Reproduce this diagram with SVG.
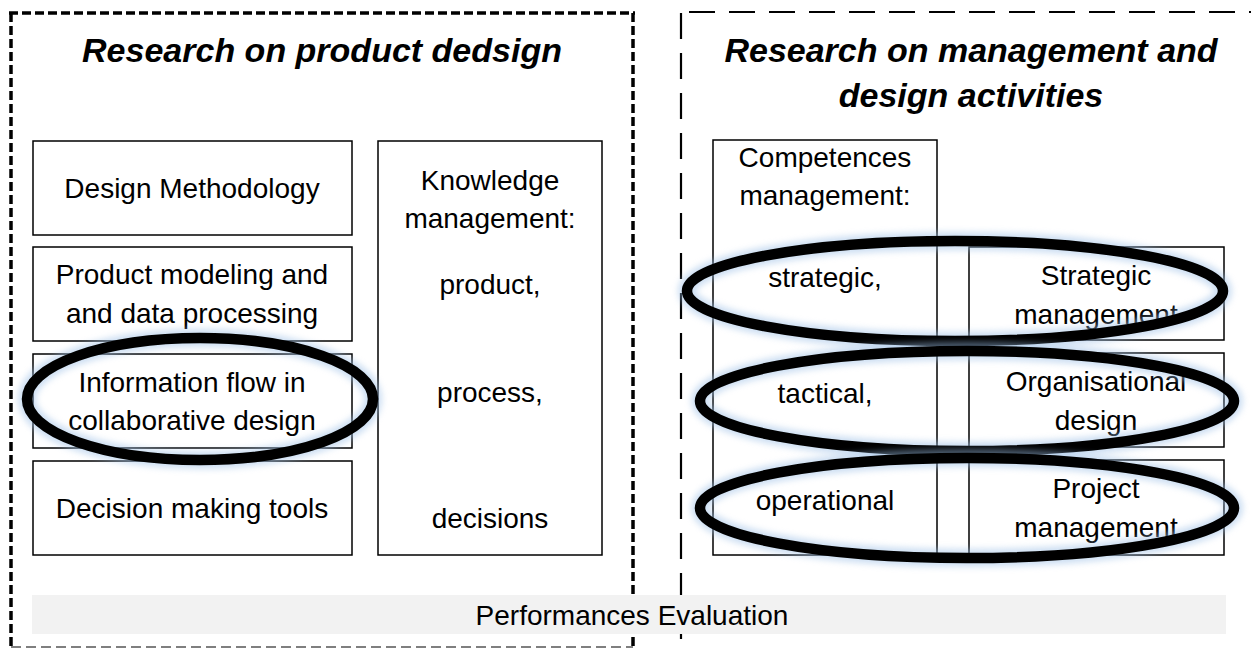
<svg xmlns="http://www.w3.org/2000/svg" width="1251" height="649" viewBox="0 0 1251 649">
<defs>
<style>
.box{fill:#fff;stroke:#000;stroke-width:1.5}
.t{font-family:"Liberation Sans",Arial,sans-serif;font-size:28px;fill:#000;text-anchor:middle}
.title{font-family:"Liberation Sans",Arial,sans-serif;font-size:34px;font-weight:bold;font-style:italic;fill:#000;text-anchor:middle}
.thick{fill:none;stroke:#000;stroke-width:3.5;stroke-dasharray:9 4}
.long{fill:none;stroke:#000;stroke-width:2.2;stroke-dasharray:26 14}
.ring{fill:none;stroke:#000;stroke-width:10.5}
.glow{fill:none;stroke:#9cbfe6;stroke-width:18;opacity:0.5;filter:url(#blur)}
</style>
<filter id="blur" x="-10%" y="-30%" width="120%" height="160%"><feGaussianBlur stdDeviation="3"/></filter>
</defs>
<rect width="1251" height="649" fill="#fff"/>

<g id="frame-product">
<line class="thick" x1="9" y1="13" x2="635" y2="13"/>
<line class="thick" x1="11" y1="13" x2="11" y2="649"/>
<line class="thick" x1="633" y1="13" x2="633" y2="649"/>
<line x1="11" y1="647" x2="633" y2="647" stroke="#555" stroke-width="1.5" stroke-dasharray="10 5"/>
<text class="title" x="322" y="62">Research on product dedsign</text>
</g>

<g id="frame-management">
<line class="long" x1="681" y1="13" x2="681" y2="649"/>
<line class="long" x1="689" y1="12" x2="1251" y2="12"/>
<text class="title" x="971" y="62">Research on management and</text>
<text class="title" x="971" y="107">design activities</text>
</g>

<g id="performance">
<rect x="32" y="595" width="1194" height="39" fill="#f2f2f2"/>
<text class="t" x="632" y="625">Performances Evaluation</text>
</g>

<g id="design-methodology">
<rect class="box" x="33" y="141" width="319" height="94"/>
<text class="t" x="192" y="198">Design Methodology</text>
</g>
<g id="product-modeling">
<rect class="box" x="33" y="247" width="319" height="94"/>
<text class="t" x="192" y="284">Product modeling and</text>
<text class="t" x="192" y="323">and data processing</text>
</g>
<g id="information-flow">
<rect class="box" x="33" y="354" width="319" height="94"/>
<text class="t" x="192" y="392">Information flow in</text>
<text class="t" x="192" y="430">collaborative design</text>
</g>
<g id="decision-tools">
<rect class="box" x="33" y="461" width="319" height="94"/>
<text class="t" x="192" y="518">Decision making tools</text>
</g>
<g id="knowledge">
<rect class="box" x="378" y="141" width="224" height="414"/>
<text class="t" x="490" y="190">Knowledge</text>
<text class="t" x="490" y="228">management:</text>
<text class="t" x="490" y="294">product,</text>
<text class="t" x="490" y="402">process,</text>
<text class="t" x="490" y="528">decisions</text>
</g>

<g id="competences">
<rect class="box" x="713" y="140" width="224" height="415"/>
<text class="t" x="825" y="167">Competences</text>
<text class="t" x="825" y="205">management:</text>
<text class="t" x="825" y="287">strategic,</text>
<text class="t" x="825" y="403">tactical,</text>
<text class="t" x="825" y="510">operational</text>
</g>
<g id="strategic-management">
<rect class="box" x="969" y="247" width="255" height="93"/>
<text class="t" x="1096" y="285">Strategic</text>
<text class="t" x="1096" y="324">management</text>
</g>
<g id="organisational-design">
<rect class="box" x="969" y="353" width="255" height="94"/>
<text class="t" x="1096" y="391">Organisational</text>
<text class="t" x="1096" y="430">design</text>
</g>
<g id="project-management">
<rect class="box" x="969" y="460" width="255" height="95"/>
<text class="t" x="1096" y="498">Project</text>
<text class="t" x="1096" y="537">management</text>
</g>

<g id="highlights">
<ellipse class="glow" cx="200" cy="399" rx="173" ry="61"/>
<ellipse class="ring" cx="200" cy="399" rx="173" ry="61"/>
<ellipse class="glow" cx="955" cy="291" rx="268" ry="50"/>
<ellipse class="ring" cx="955" cy="291" rx="268" ry="50"/>
<ellipse class="glow" cx="967" cy="401" rx="267" ry="50"/>
<ellipse class="ring" cx="967" cy="401" rx="267" ry="50"/>
<ellipse class="glow" cx="967" cy="508" rx="267" ry="50"/>
<ellipse class="ring" cx="967" cy="508" rx="267" ry="50"/>
</g>
<g id="connectors"/>
</svg>
